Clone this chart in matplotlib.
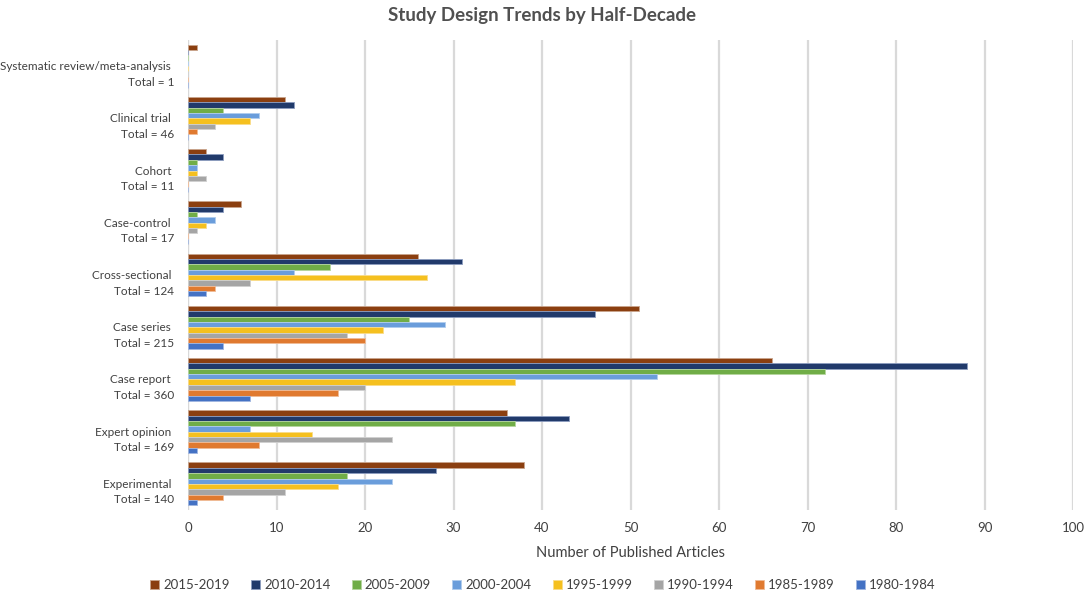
import matplotlib
matplotlib.use("Agg")
import matplotlib.pyplot as plt
import matplotlib.transforms as mtransforms
import numpy as np
from matplotlib.patches import Patch

plt.rcParams['font.family'] = ['Lato', 'DejaVu Sans']

categories = ["Systematic review/meta-analysis", "Clinical trial", "Cohort", "Case-control",
              "Cross-sectional", "Case series", "Case report", "Expert opinion", "Experimental"]
totals = [1, 46, 11, 17, 124, 215, 360, 169, 140]
periods = ["2015-2019", "2010-2014", "2005-2009", "2000-2004",
           "1995-1999", "1990-1994", "1985-1989", "1980-1984"]
v_2015_2019 = [1, 11, 2, 6, 26, 51, 66, 36, 38]
v_2010_2014 = [0, 12, 4, 4, 31, 46, 88, 43, 28]
v_2005_2009 = [0, 4, 1, 1, 16, 25, 72, 37, 18]
v_2000_2004 = [0, 8, 1, 3, 12, 29, 53, 7, 23]
v_1995_1999 = [0, 7, 1, 2, 27, 22, 37, 14, 17]
v_1990_1994 = [0, 3, 2, 1, 7, 18, 20, 23, 11]
v_1985_1989 = [0, 1, 0, 0, 3, 20, 17, 8, 4]
v_1980_1984 = [0, 0, 0, 0, 2, 4, 7, 1, 1]
series = [v_2015_2019, v_2010_2014, v_2005_2009, v_2000_2004,
          v_1995_1999, v_1990_1994, v_1985_1989, v_1980_1984]
colors = ["#8B3F10", "#213A6B", "#70AD47", "#6A9DDB", "#F5C01F", "#A5A5A5", "#E07A30", "#4472C4"]
edges = ["#C9A58C", "#8C9CBF", "#B5D69E", "#B0CCEE", "#F9DC8A", "#D0D0D0", "#F0BB96", "#A0B6E0"]

fig = plt.figure(figsize=(10.84, 5.93), dpi=100)
ax = fig.add_axes([188/1084, 1-510/593, (1073-188)/1084, 470/593])

n = len(categories)
nb = len(periods)
bh = 0.1025
ypos = np.arange(n)
for j, (vals, c, ec) in enumerate(zip(series, colors, edges)):
    offs = -0.41 + bh * (j + 0.5)
    ax.barh(ypos + offs, vals, height=bh, color=c, edgecolor=ec, linewidth=0.6, zorder=3)

ax.set_ylim(n - 0.5, -0.5)
ax.set_xlim(0, 100)
ax.set_xticks(np.arange(0, 101, 10))
ax.set_yticks(ypos)
ax.set_yticklabels([f"{c} \nTotal = {t}" for c, t in zip(categories, totals)],
                   fontsize=8.5, color="#404040", multialignment='right', linespacing=1.5)
ax.tick_params(axis='y', length=0, pad=10)
ax.tick_params(axis='x', length=0, labelsize=9.5, labelcolor="#404040", pad=9)
shift = mtransforms.ScaledTranslation(0, -5/100, fig.dpi_scale_trans)
for lab in ax.get_yticklabels():
    lab.set_transform(lab.get_transform() + shift)
ax.grid(axis='x', color="#D9D9D9", linewidth=1.6, zorder=0)
for s in ax.spines.values():
    s.set_visible(False)
ax.axvline(0, color="#D9D9D9", linewidth=1.6, zorder=1)

ax.set_xlabel("Number of Published Articles", fontsize=10.5, color="#404040", labelpad=8)
fig.text(0.5, 1-15/593, "Study Design Trends by Half-Decade", ha='center', va='center',
         fontsize=13.5, fontweight='bold', color="#505050")

handles = [Patch(facecolor=c, edgecolor=ec, linewidth=0.6) for c, ec in zip(colors, edges)]
fig.legend(handles, periods, loc='center', bbox_to_anchor=(543/1084, 1-585/593), ncol=8,
           frameon=False, fontsize=9.5, handlelength=0.7, handleheight=0.7,
           handletextpad=0.3, columnspacing=1.6, labelcolor="#404040")

fig.savefig("out.png", dpi=100)
